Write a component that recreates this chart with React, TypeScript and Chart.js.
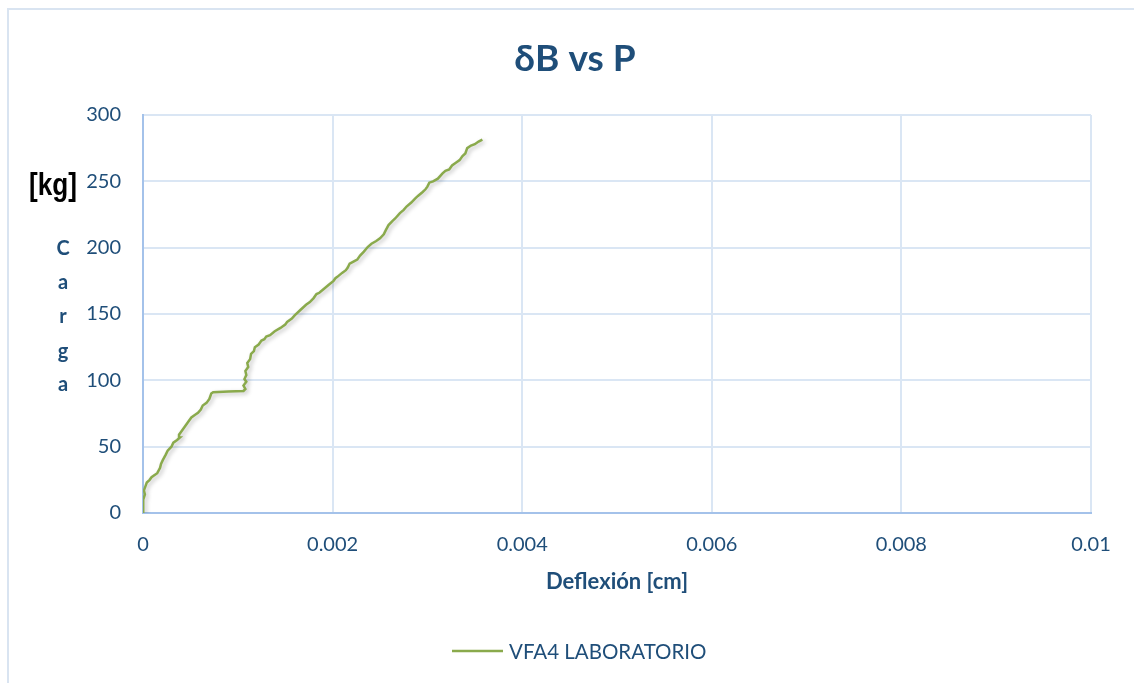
import React, { useEffect, useRef } from "react";
import { Chart, registerables } from "chart.js";

Chart.register(...registerables);

const chartTitle = "δB vs P";
const seriesName = "VFA4 LABORATORIO";
const xAxisTitle = "Deflexión [cm]";
const yAxisLetters = ["C", "a", "r", "g", "a"];
const yUnit = "[kg]";
const xTickLabels = ["0", "0.002", "0.004", "0.006", "0.008", "0.01"];
const yTickLabels = ["0", "50", "100", "150", "200", "250", "300"];

const deflexion = [
  0, 0.0, 0.000005, 0.00002, 0.00001, 0.00003, 0.00004, 0.00007, 0.00009, 0.00015,
  0.00018, 0.00019, 0.00021, 0.00024, 0.00026, 0.0003, 0.00032, 0.00036, 0.00039, 0.00038,
  0.00041, 0.00044, 0.00047, 0.00051, 0.00055, 0.00058, 0.00061, 0.00063, 0.00067, 0.0007,
  0.00072, 0.00074, 0.0009, 0.00106, 0.00108, 0.00106, 0.00109, 0.00107, 0.00109, 0.00108,
  0.00111, 0.0011, 0.00113, 0.00114, 0.00117, 0.00118, 0.00122, 0.00125, 0.00128, 0.0013,
  0.00134, 0.00139, 0.00145, 0.0015, 0.00152, 0.00157, 0.0016, 0.00166, 0.00172, 0.00176,
  0.0018, 0.00183, 0.00186, 0.00191, 0.00196, 0.00201, 0.00203, 0.00205, 0.0021, 0.00214,
  0.00216, 0.00218, 0.00222, 0.00226, 0.00229, 0.00233, 0.00237, 0.00241, 0.00246, 0.0025,
  0.00254, 0.00256, 0.00259, 0.00263, 0.00266, 0.00271, 0.00275, 0.00278, 0.00283, 0.00287,
  0.0029, 0.00295, 0.00298, 0.003, 0.00302, 0.00306, 0.00311, 0.00316, 0.00319, 0.00323,
  0.00326, 0.0033, 0.00334, 0.00337, 0.0034, 0.00342, 0.00346, 0.0035, 0.00354, 0.00358,
];
const carga = [
  0, 5, 10, 14, 17, 21, 23, 25, 27, 30,
  34, 37, 40, 44, 47, 50, 53, 55, 57, 59,
  62, 65, 68, 72, 74, 75.5, 78, 81, 83, 86,
  90, 91, 91.5, 92, 93.5, 96, 99, 101, 104, 107,
  110, 113, 116, 120, 122, 125, 127, 130, 131, 133,
  134, 137, 139.5, 142, 144, 146.5, 149, 153, 157, 159,
  162, 165, 166, 169, 172, 175, 177, 178, 181, 183,
  185, 188, 189.5, 191, 194, 197, 200.5, 203, 205, 207,
  210, 213, 217, 220, 222, 226, 228.5, 231, 234, 237,
  239, 242, 244, 246, 249, 250, 252, 256, 258, 259,
  262, 264, 266, 269, 271, 275, 277, 278, 280, 281.5,
];

const TEXT_COLOR = "#1F4E79";
const LINE_COLOR = "#8AAA4C";
const FONT = "Lato, 'Open Sans', 'Liberation Sans', sans-serif";

export default function App() {
  const canvasRef = useRef<HTMLCanvasElement | null>(null);

  useEffect(() => {
    const canvas = canvasRef.current;
    if (!canvas) return;

    const decorPlugin = {
      id: "decor",
      beforeDraw(chart: any) {
        const ctx = chart.ctx;
        ctx.save();
        ctx.fillStyle = "#ffffff";
        ctx.fillRect(0, 0, chart.width, chart.height);
        ctx.strokeStyle = "#D9E4F1";
        ctx.lineWidth = 2;
        ctx.strokeRect(8, 9, chart.width + 20, chart.height + 20);
        ctx.restore();
      },
      beforeDatasetDraw(chart: any) {
        const ctx = chart.ctx;
        ctx.save();
        ctx.shadowColor = "rgba(0,0,0,0.25)";
        ctx.shadowBlur = 4;
        ctx.shadowOffsetX = 2;
        ctx.shadowOffsetY = 2;
      },
      afterDatasetDraw(chart: any) {
        chart.ctx.restore();
      },
      afterDraw(chart: any) {
        const ctx = chart.ctx;
        const area = chart.chartArea;
        ctx.save();
        // title
        ctx.fillStyle = TEXT_COLOR;
        ctx.textAlign = "center";
        ctx.textBaseline = "middle";
        ctx.font = `bold 37px ${FONT}`;
        ctx.fillText(chartTitle, 575, 59);
        // y axis stacked title
        ctx.font = `bold 20px ${FONT}`;
        const ys = [249, 283, 317, 352, 385];
        yAxisLetters.forEach((l, i) => ctx.fillText(l, 63, ys[i]));
        // unit
        ctx.fillStyle = "#000000";
        ctx.font = "bold 31px 'Liberation Sans Narrow', 'Liberation Sans', Arial, sans-serif";
        ctx.fillText(yUnit, 53, 186, 48);
        // x axis title
        ctx.fillStyle = TEXT_COLOR;
        ctx.font = `bold 22px ${FONT}`;
        ctx.fillText(xAxisTitle, (area.left + area.right) / 2, 582);
        // legend
        const ds = chart.data.datasets[0];
        ctx.strokeStyle = ds.borderColor;
        ctx.lineWidth = 2.5;
        ctx.beginPath();
        ctx.moveTo(452, 651);
        ctx.lineTo(503, 651);
        ctx.stroke();
        ctx.textAlign = "left";
        ctx.font = `20.5px ${FONT}`;
        ctx.fillText(ds.label, 509, 652);
        ctx.restore();
      },
    };

    const chart = new Chart(canvas, {
      type: "line",
      data: {
        datasets: [
          {
            label: seriesName,
            data: deflexion.map((x, i) => ({ x, y: carga[i] })),
            borderColor: LINE_COLOR,
            borderWidth: 2.5,
            pointRadius: 0,
            fill: false,
            tension: 0,
          },
        ],
      },
      options: {
        animation: false,
        responsive: false,
        devicePixelRatio: 1,
        layout: { padding: { top: 115, right: 43, left: 0, bottom: 0 } },
        plugins: {
          legend: { display: false },
          title: { display: false },
          tooltip: { enabled: false },
        },
        scales: {
          x: {
            type: "linear",
            min: 0,
            max: 0.01,
            afterFit(scale: any) {
              scale.height = 170;
            },
            afterBuildTicks(scale: any) {
              scale.ticks = xTickLabels.map((_, i) => ({ value: i * 0.002 }));
            },
            ticks: {
              padding: 20,
              color: TEXT_COLOR,
              font: { family: FONT, size: 20 },
              maxRotation: 0,
              callback: (_v: any, i: number) => xTickLabels[i],
            },
            grid: { color: "#DAE6F4", lineWidth: 2, drawTicks: false },
            border: { color: "#A4C2EA", width: 2 },
          },
          y: {
            type: "linear",
            min: 0,
            max: 300,
            afterFit(scale: any) {
              scale.width = 143;
            },
            afterBuildTicks(scale: any) {
              scale.ticks = yTickLabels.map((_, i) => ({ value: i * 50 }));
            },
            ticks: {
              padding: 22,
              color: TEXT_COLOR,
              font: { family: FONT, size: 20 },
              callback: (_v: any, i: number) => yTickLabels[i],
            },
            grid: { color: "#DAE6F4", lineWidth: 2, drawTicks: false },
            border: { color: "#A4C2EA", width: 2 },
          },
        },
      },
      plugins: [decorPlugin],
    } as any);

    return () => chart.destroy();
  }, []);

  return (
    <div style={{ position: "fixed", left: 0, top: 0, width: 1134, height: 683, background: "#fff" }}>
      <canvas ref={canvasRef} width={1134} height={683} />
    </div>
  );
}
